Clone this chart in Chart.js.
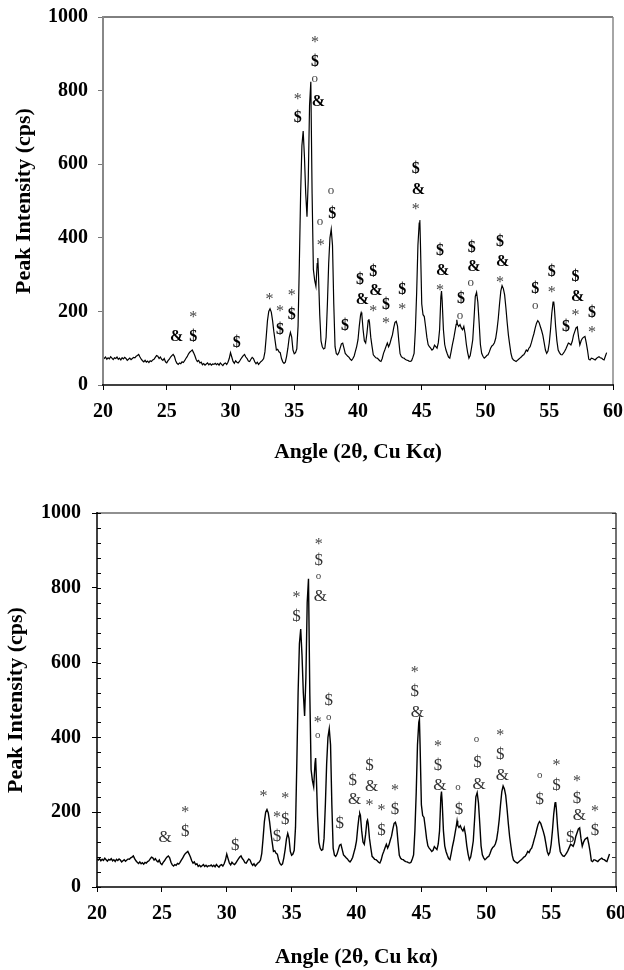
<!DOCTYPE html>
<html><head><meta charset="utf-8">
<script src="https://cdn.jsdelivr.net/npm/chart.js@4.4.0/dist/chart.umd.min.js"></script>
<style>
html,body{margin:0;padding:0;background:#fff;width:624px;height:970px;overflow:hidden}
canvas{position:absolute;left:0}
#c1{top:0}
#c2{top:485px}
</style></head><body>
<canvas id="c1" width="624" height="485"></canvas>
<canvas id="c2" width="624" height="485"></canvas>
<script>
// ---------- data ----------
const angles = [
20.0,20.1,20.2,20.3,20.4,20.5,20.6,20.7,20.8,20.9,21.0,21.1,21.2,21.3,21.4,21.5,21.6,21.7,21.8,21.9,
22.0,22.1,22.2,22.3,22.4,22.5,22.6,22.7,22.8,22.9,23.0,23.1,23.2,23.3,23.4,23.5,23.6,23.7,23.8,23.9,
24.0,24.1,24.2,24.3,24.4,24.5,24.6,24.7,24.8,24.9,25.0,25.1,25.2,25.3,25.4,25.5,25.6,25.7,25.8,25.9,
26.0,26.1,26.2,26.3,26.4,26.5,26.6,26.7,26.8,26.9,27.0,27.1,27.2,27.3,27.4,27.5,27.6,27.7,27.8,27.9,
28.0,28.1,28.2,28.3,28.4,28.5,28.6,28.7,28.8,28.9,29.0,29.1,29.2,29.3,29.4,29.5,29.6,29.7,29.8,29.9,
30.0,30.1,30.2,30.3,30.4,30.5,30.6,30.7,30.8,30.9,31.0,31.1,31.2,31.3,31.4,31.5,31.6,31.7,31.8,31.9,
32.0,32.1,32.2,32.3,32.4,32.5,32.6,32.7,32.8,32.9,33.0,33.1,33.2,33.3,33.4,33.5,33.6,33.7,33.8,33.9,
34.0,34.1,34.2,34.3,34.4,34.5,34.6,34.7,34.8,34.9,35.0,35.1,35.2,35.3,35.4,35.5,35.6,35.7,35.8,35.9,
36.0,36.1,36.2,36.3,36.4,36.5,36.6,36.7,36.8,36.85,36.9,37.0,37.1,37.2,37.3,37.4,37.5,37.6,37.7,37.8,
37.9,38.0,38.1,38.2,38.3,38.4,38.5,38.6,38.7,38.8,38.9,39.0,39.1,39.2,39.3,39.4,39.5,39.6,39.7,39.8,
39.9,40.0,40.1,40.2,40.25,40.3,40.4,40.5,40.6,40.7,40.8,40.85,40.9,41.0,41.1,41.2,41.3,41.4,41.5,41.6,
41.7,41.8,41.9,42.0,42.1,42.2,42.3,42.4,42.5,42.6,42.7,42.8,42.9,43.0,43.1,43.2,43.3,43.4,43.5,43.6,
43.7,43.8,43.9,44.0,44.1,44.2,44.3,44.4,44.5,44.6,44.7,44.8,44.85,44.9,45.0,45.1,45.2,45.3,45.4,45.5,
45.6,45.7,45.8,45.9,46.0,46.1,46.2,46.3,46.4,46.5,46.55,46.6,46.7,46.8,46.9,47.0,47.1,47.2,47.3,47.4,
47.5,47.6,47.7,47.75,47.8,47.9,48.0,48.1,48.2,48.3,48.4,48.5,48.6,48.7,48.8,48.9,49.0,49.1,49.2,49.3,
49.4,49.5,49.6,49.7,49.8,49.9,50.0,50.1,50.2,50.3,50.4,50.5,50.6,50.7,50.8,50.9,51.0,51.1,51.2,51.3,
51.4,51.5,51.6,51.7,51.8,51.9,52.0,52.1,52.2,52.3,52.4,52.5,52.6,52.7,52.8,52.9,53.0,53.1,53.2,53.3,
53.4,53.5,53.6,53.7,53.8,53.9,54.0,54.1,54.2,54.3,54.4,54.5,54.6,54.7,54.8,54.9,55.0,55.1,55.2,55.3,
55.35,55.4,55.5,55.6,55.7,55.8,55.9,56.0,56.1,56.2,56.3,56.4,56.5,56.6,56.7,56.8,56.9,57.0,57.1,57.2,
57.3,57.4,57.5,57.6,57.7,57.8,57.9,58.0,58.1,58.2,58.3,58.4,58.5,58.6,58.7,58.8,58.9,59.0,59.1,59.2,
59.3,59.4,59.5
];
const intensities = [
75,72,76,70,74,71,77,73,69,74,72,76,70,73,68,74,71,75,72,67,
70,73,69,72,75,74,78,80,83,76,70,66,63,67,62,65,61,66,64,68,
70,75,80,78,72,76,70,67,72,63,60,66,70,76,80,83,78,66,59,56,
60,58,63,61,66,72,77,84,89,92,95,88,80,70,64,67,60,62,55,58,
54,57,60,55,58,54,57,56,59,55,58,54,60,56,53,58,60,56,62,72,
88,76,64,59,66,62,60,64,70,75,80,83,76,72,65,64,70,75,72,63,
58,62,56,60,64,67,72,90,130,175,200,207,198,175,145,120,95,97,90,88,
72,63,59,62,78,100,128,143,130,95,85,88,98,160,330,520,650,690,620,520,
457,560,760,824,520,314,285,268,330,345,300,190,120,104,98,100,130,220,330,400,
423,380,220,104,85,82,88,100,112,114,100,86,82,78,75,70,67,72,79,92,
105,123,160,190,197,192,150,120,114,140,175,179,170,130,105,82,78,74,73,70,
66,64,72,86,95,105,114,104,112,125,136,155,170,173,160,120,85,77,74,73,
70,68,67,65,64,66,75,86,150,250,380,440,448,380,220,191,186,159,130,110,
104,100,95,98,108,104,100,115,150,240,255,230,150,110,95,85,76,73,90,109,
125,145,165,177,165,159,164,155,150,159,140,110,88,73,80,100,123,180,241,252,
225,170,110,86,78,73,76,80,82,90,100,106,109,115,127,150,180,220,255,270,
262,245,210,170,135,109,85,72,68,66,64,67,70,73,76,80,82,88,95,92,
100,104,115,128,140,155,168,175,170,159,148,135,115,95,86,92,114,150,195,225,
227,210,159,120,95,88,83,82,86,91,98,106,114,112,109,118,135,145,155,158,
130,109,120,127,130,132,115,95,70,68,73,72,70,68,72,75,77,74,73,70,
68,78,88
];
const xTickValues = [20,25,30,35,40,45,50,55,60];
const yTickValues = [0,200,400,600,800,1000];

// phase markers, upper panel
const topMarkText  = ['&','$','*','$','*','*','$','*','$',
  '*','$','*','$','o','&','o','*','o','$','$',
  '$','&','$','&','*','$','*','$','*',
  '$','&','*','$','&','*','$','o','$','&','o',
  '$','&','*','$','o','$','*','$','$','&','*','$','*'];
const topMarkAngle = [25.78,27.08,27.08,30.49,33.05,33.88,33.88,34.8,34.8,
  35.27,35.27,36.63,36.63,36.6,36.89,37.02,37.07,37.88,37.99,38.98,
  40.16,40.34,41.2,41.41,41.2,42.2,42.2,43.48,43.48,
  44.52,44.73,44.52,46.43,46.64,46.43,48.08,48.0,48.92,49.1,48.84,
  51.14,51.35,51.14,53.91,53.91,55.19,55.19,56.31,57.05,57.23,57.05,58.35,58.35];
const topMarkCps   = [130,131,190,115,240,208,149,251,190,
  782,725,937,879,832,770,444,387,528,466,160,
  285,231,308,255,206,217,175,258,213,
  586,530,485,365,311,265,233,190,374,322,278,
  390,335,285,260,215,308,258,158,294,240,196,195,149];

// phase markers, lower panel
const botMarkText  = ['&','$','*','$','*','*','$','$','*',
  '*','$','*','$','o','&','*','o','$','o','$',
  '$','&','$','&','*','*','$','*','$',
  '*','$','&','*','$','&','o','$','o','$','&',
  '*','$','&','o','$','*','$','$','*','$','&','*','$'];
const botMarkAngle = [25.25,26.8,26.8,30.66,32.84,33.87,33.87,34.5,34.5,
  35.37,35.37,37.09,37.09,37.07,37.22,37.01,37.01,37.86,37.86,38.71,
  39.71,39.85,41.0,41.16,41.0,41.93,41.93,42.96,42.96,
  44.48,44.48,44.69,46.28,46.28,46.43,47.82,47.9,49.24,49.32,49.45,
  51.07,51.07,51.25,54.13,54.13,55.42,55.42,56.47,56.99,56.99,57.17,58.38,58.38];
const botMarkCps   = [133,148,206,110,250,192,135,181,243,
  781,724,923,872,832,776,448,406,498,453,170,
  284,233,326,268,225,212,152,264,206,
  580,522,466,384,326,270,267,206,395,332,275,
  413,353,297,299,234,331,270,133,289,237,190,210,152];

// ---------- helpers ----------
const SERIF = '"Liberation Serif","Times New Roman",Times,serif';
const points = angles.map((a, i) => ({x: a, y: intensities[i]}));

const markPlugin = {
  id: 'marks',
  afterDatasetsDraw(chart, args, o) {
    const {ctx, scales: {x, y}} = chart;
    ctx.save();
    ctx.textAlign = 'center';
    ctx.textBaseline = 'middle';
    o.text.forEach((t, i) => {
      const px = x.getPixelForValue(o.angle[i]);
      const py = y.getPixelForValue(o.cps[i]);
      let size = o.size, weight = o.boldSym.includes(t) ? 'bold' : 'normal';
      if (t === 'o') size = o.circleSize;
      if (t === '*') size = o.starSize;
      ctx.font = weight + ' ' + size + 'px ' + SERIF;
      ctx.fillStyle = (t === '$' || t === '&') ? o.strong : o.light;
      ctx.fillText(t, px, py + (t === '*' ? o.starShift : 0));
    });
    ctx.restore();
  }
};

const framePlugin = {
  id: 'frame',
  afterDraw(chart, args, o) {
    const {ctx, chartArea: a, scales: {y}} = chart;
    ctx.save();
    const line = (x1, y1, x2, y2, c, w) => {
      ctx.beginPath(); ctx.strokeStyle = c; ctx.lineWidth = w;
      ctx.moveTo(x1, y1); ctx.lineTo(x2, y2); ctx.stroke();
    };
    line(a.left, a.top, a.right, a.top, o.topC, o.topW);
    line(a.right, a.top, a.right, a.bottom, o.rightC, o.rightW);
    line(a.left, a.top - 1, a.left, a.bottom + 1, o.leftC, o.leftW);
    line(a.left - 1, a.bottom, a.right + 1, a.bottom, o.botC, o.botW);
    if (o.minor) {
      for (let v = 0; v <= 1000; v += o.minor) {
        const py = Math.round(y.getPixelForValue(v)) + 0.5;
        line(a.left, py, a.left + 4, py, '#000', 1);
        line(a.right - 4, py, a.right, py, '#333', 1);
      }
    }
    ctx.restore();
  }
};

function makeChart(id, cfg) {
  return new Chart(document.getElementById(id), {
    type: 'line',
    data: {datasets: [{data: points, borderColor: '#000', borderWidth: cfg.lineW,
      pointRadius: 0, tension: 0, fill: false}]},
    options: {
      responsive: false, animation: false, devicePixelRatio: 1,
      layout: {padding: {top: cfg.top, right: cfg.right, left: 0, bottom: 0}},
      plugins: {
        legend: {display: false}, tooltip: {enabled: false},
        marks: cfg.marks, frame: cfg.frame
      },
      scales: {
        x: {
          type: 'linear', min: 20, max: 60,
          afterBuildTicks: s => { s.ticks = xTickValues.map(v => ({value: v})); },
          ticks: {font: {family: SERIF, size: 20, weight: 'bold'}, color: '#000',
            padding: cfg.xPad, maxRotation: 0, autoSkip: false, callback: v => String(v)},
          grid: {drawOnChartArea: false, drawTicks: true, tickLength: 5, color: '#000', lineWidth: 1},
          border: {display: false},
          title: {display: true, text: cfg.xTitle, color: '#000',
            font: {family: SERIF, size: 21.5, weight: 'bold'}, padding: {top: 0, bottom: cfg.xTitlePad}},
          afterFit: s => { s.height = cfg.xH; s.paddingLeft = 0; s.paddingRight = 0; }
        },
        y: {
          min: 0, max: 1000,
          afterBuildTicks: s => { s.ticks = yTickValues.map(v => ({value: v})); },
          ticks: {font: {family: SERIF, size: 20, weight: 'bold'}, color: '#000',
            padding: cfg.yPad, autoSkip: false, callback: v => String(v)},
          grid: {drawOnChartArea: false, drawTicks: true, tickLength: 5, color: cfg.yTickC, lineWidth: 1},
          border: {display: false},
          title: {display: true, text: 'Peak Intensity (cps)', color: '#000',
            font: {family: SERIF, size: 22, weight: 'bold'}, padding: {top: cfg.yTitlePad, bottom: 0}},
          afterFit: s => { s.width = cfg.yW; s.paddingTop = 0; s.paddingBottom = 0; }
        }
      }
    },
    plugins: [markPlugin, framePlugin]
  });
}

makeChart('c1', {
  top: 17, right: 11, yW: 103, xH: 100, lineW: 1.2,
  xPad: 10, yPad: 10, xTitlePad: 20, yTitlePad: 11, yTickC: '#777',
  xTitle: 'Angle (2θ, Cu Kα)',
  marks: {text: topMarkText, angle: topMarkAngle, cps: topMarkCps,
    size: 16, starSize: 16, starShift: 3, circleSize: 13, boldSym: ['$', '&'], strong: '#000', light: '#444'},
  frame: {topC: '#000', topW: 1, rightC: '#888', rightW: 1.5, leftC: '#888', leftW: 2,
    botC: '#000', botW: 1.5, minor: 0}
});

makeChart('c2', {
  top: 28, right: 8, yW: 97, xH: 83, lineW: 1.4,
  xPad: 10, yPad: 11, xTitlePad: 0, yTitlePad: 3, yTickC: '#000',
  xTitle: 'Angle (2θ, Cu kα)',
  marks: {text: botMarkText, angle: botMarkAngle, cps: botMarkCps,
    size: 17, starSize: 16, starShift: 3, circleSize: 11, boldSym: [], strong: '#333', light: '#444'},
  frame: {topC: '#222', topW: 1.2, rightC: '#444', rightW: 1.5, leftC: '#000', leftW: 1.5,
    botC: '#000', botW: 1.5, minor: 40}
});
</script>
</body></html>
